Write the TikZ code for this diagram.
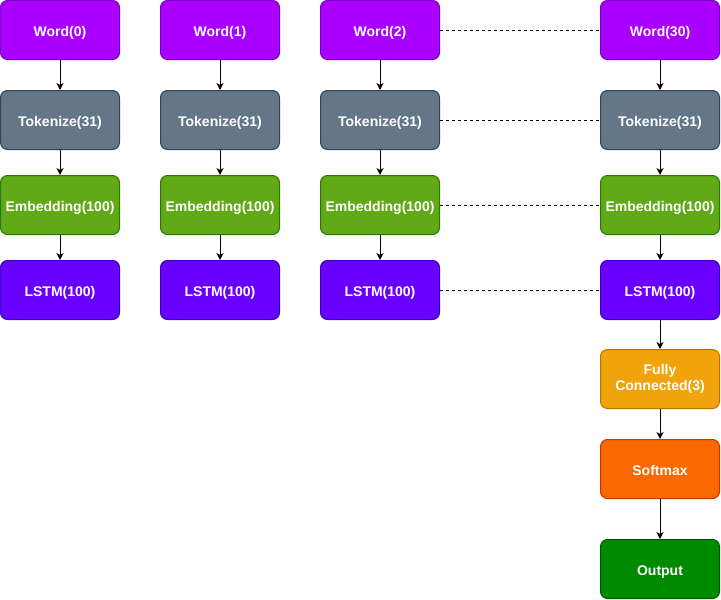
\documentclass[tikz,border=0pt]{standalone}
\usepackage{fontspec}
\setmainfont{Liberation Sans}
\usepackage{tikz}
\usepackage{xcolor}
\usetikzlibrary{
    arrows.meta,
    positioning
}
\definecolor{wordfill}{HTML}{AA00FF}
\definecolor{wordline}{HTML}{7700CC}
\definecolor{tokfill}{HTML}{647687}
\definecolor{tokline}{HTML}{314354}
\definecolor{embfill}{HTML}{60A917}
\definecolor{embline}{HTML}{2D7600}
\definecolor{lstmfill}{HTML}{6A00FF}
\definecolor{lstmline}{HTML}{3700CC}
\definecolor{fcfill}{HTML}{F0A30A}
\definecolor{fcline}{HTML}{BD7000}
\definecolor{smfill}{HTML}{FA6800}
\definecolor{smline}{HTML}{C73500}
\definecolor{outfill}{HTML}{008A00}
\definecolor{outline}{HTML}{005700}
\tikzset{
    layer/.style={draw, rounded corners=7pt, line width=1pt, minimum width=119pt,
        minimum height=59pt, align=center, text=white, inner sep=0pt,
        text height=12pt, text depth=0pt,
        font=\fontsize{14}{16.5}\selectfont\bfseries},
    word/.style={layer, fill=wordfill, draw=wordline},
    tok/.style={layer, fill=tokfill, draw=tokline},
    emb/.style={layer, fill=embfill, draw=embline},
    lstm/.style={layer, fill=lstmfill, draw=lstmline},
    link/.style={-{Stealth[length=7pt, width=7pt, inset=2pt]}, line width=1pt},
    skip/.style={line width=1pt, dash pattern=on 3pt off 3pt}
}

\begin{document}
\begin{tikzpicture}[x=1pt, y=-1pt]
    \useasboundingbox (0, 0) rectangle (721, 600);
    % first column
    \node[word] (w0) at (60, 30) {Word(0)};
    \node[tok] (t0) at (60, 120) {Tokenize(31)};
    \node[emb] (e0) at (60, 205) {Embedding(100)};
    \node[lstm] (l0) at (60, 290) {LSTM(100)};
    % second column
    \node[word] (w1) at (220, 30) {Word(1)};
    \node[tok] (t1) at (220, 120) {Tokenize(31)};
    \node[emb] (e1) at (220, 205) {Embedding(100)};
    \node[lstm] (l1) at (220, 290) {LSTM(100)};
    % third column
    \node[word] (w2) at (380, 30) {Word(2)};
    \node[tok] (t2) at (380, 120) {Tokenize(31)};
    \node[emb] (e2) at (380, 205) {Embedding(100)};
    \node[lstm] (l2) at (380, 290) {LSTM(100)};
    % last column
    \node[word] (w30) at (660, 30) {Word(30)};
    \node[tok] (t30) at (660, 120) {Tokenize(31)};
    \node[emb] (e30) at (660, 205) {Embedding(100)};
    \node[lstm] (l30) at (660, 290) {LSTM(100)};
    \node[layer, fill=fcfill, draw=fcline, text height=26.5pt, text depth=3.5pt] (fc) at (660, 379) {Fully\\Connected(3)};
    \node[layer, fill=smfill, draw=smline] (sm) at (660, 469) {Softmax};
    \node[layer, fill=outfill, draw=outline] (out) at (660, 569) {Output};

    \draw[link] (w0) -- (t0);
    \draw[link] (t0) -- (e0);
    \draw[link] (e0) -- (l0);
    \draw[link] (w1) -- (t1);
    \draw[link] (t1) -- (e1);
    \draw[link] (e1) -- (l1);
    \draw[link] (w2) -- (t2);
    \draw[link] (t2) -- (e2);
    \draw[link] (e2) -- (l2);
    \draw[link] (w30) -- (t30);
    \draw[link] (t30) -- (e30);
    \draw[link] (e30) -- (l30);
    \draw[link] (l30) -- (fc);
    \draw[link] (fc) -- (sm);
    \draw[link] (sm) -- (out);

    \draw[skip] (w2) -- (w30);
    \draw[skip] (t2) -- (t30);
    \draw[skip] (e2) -- (e30);
    \draw[skip] (l2) -- (l30);
\end{tikzpicture}
\end{document}
